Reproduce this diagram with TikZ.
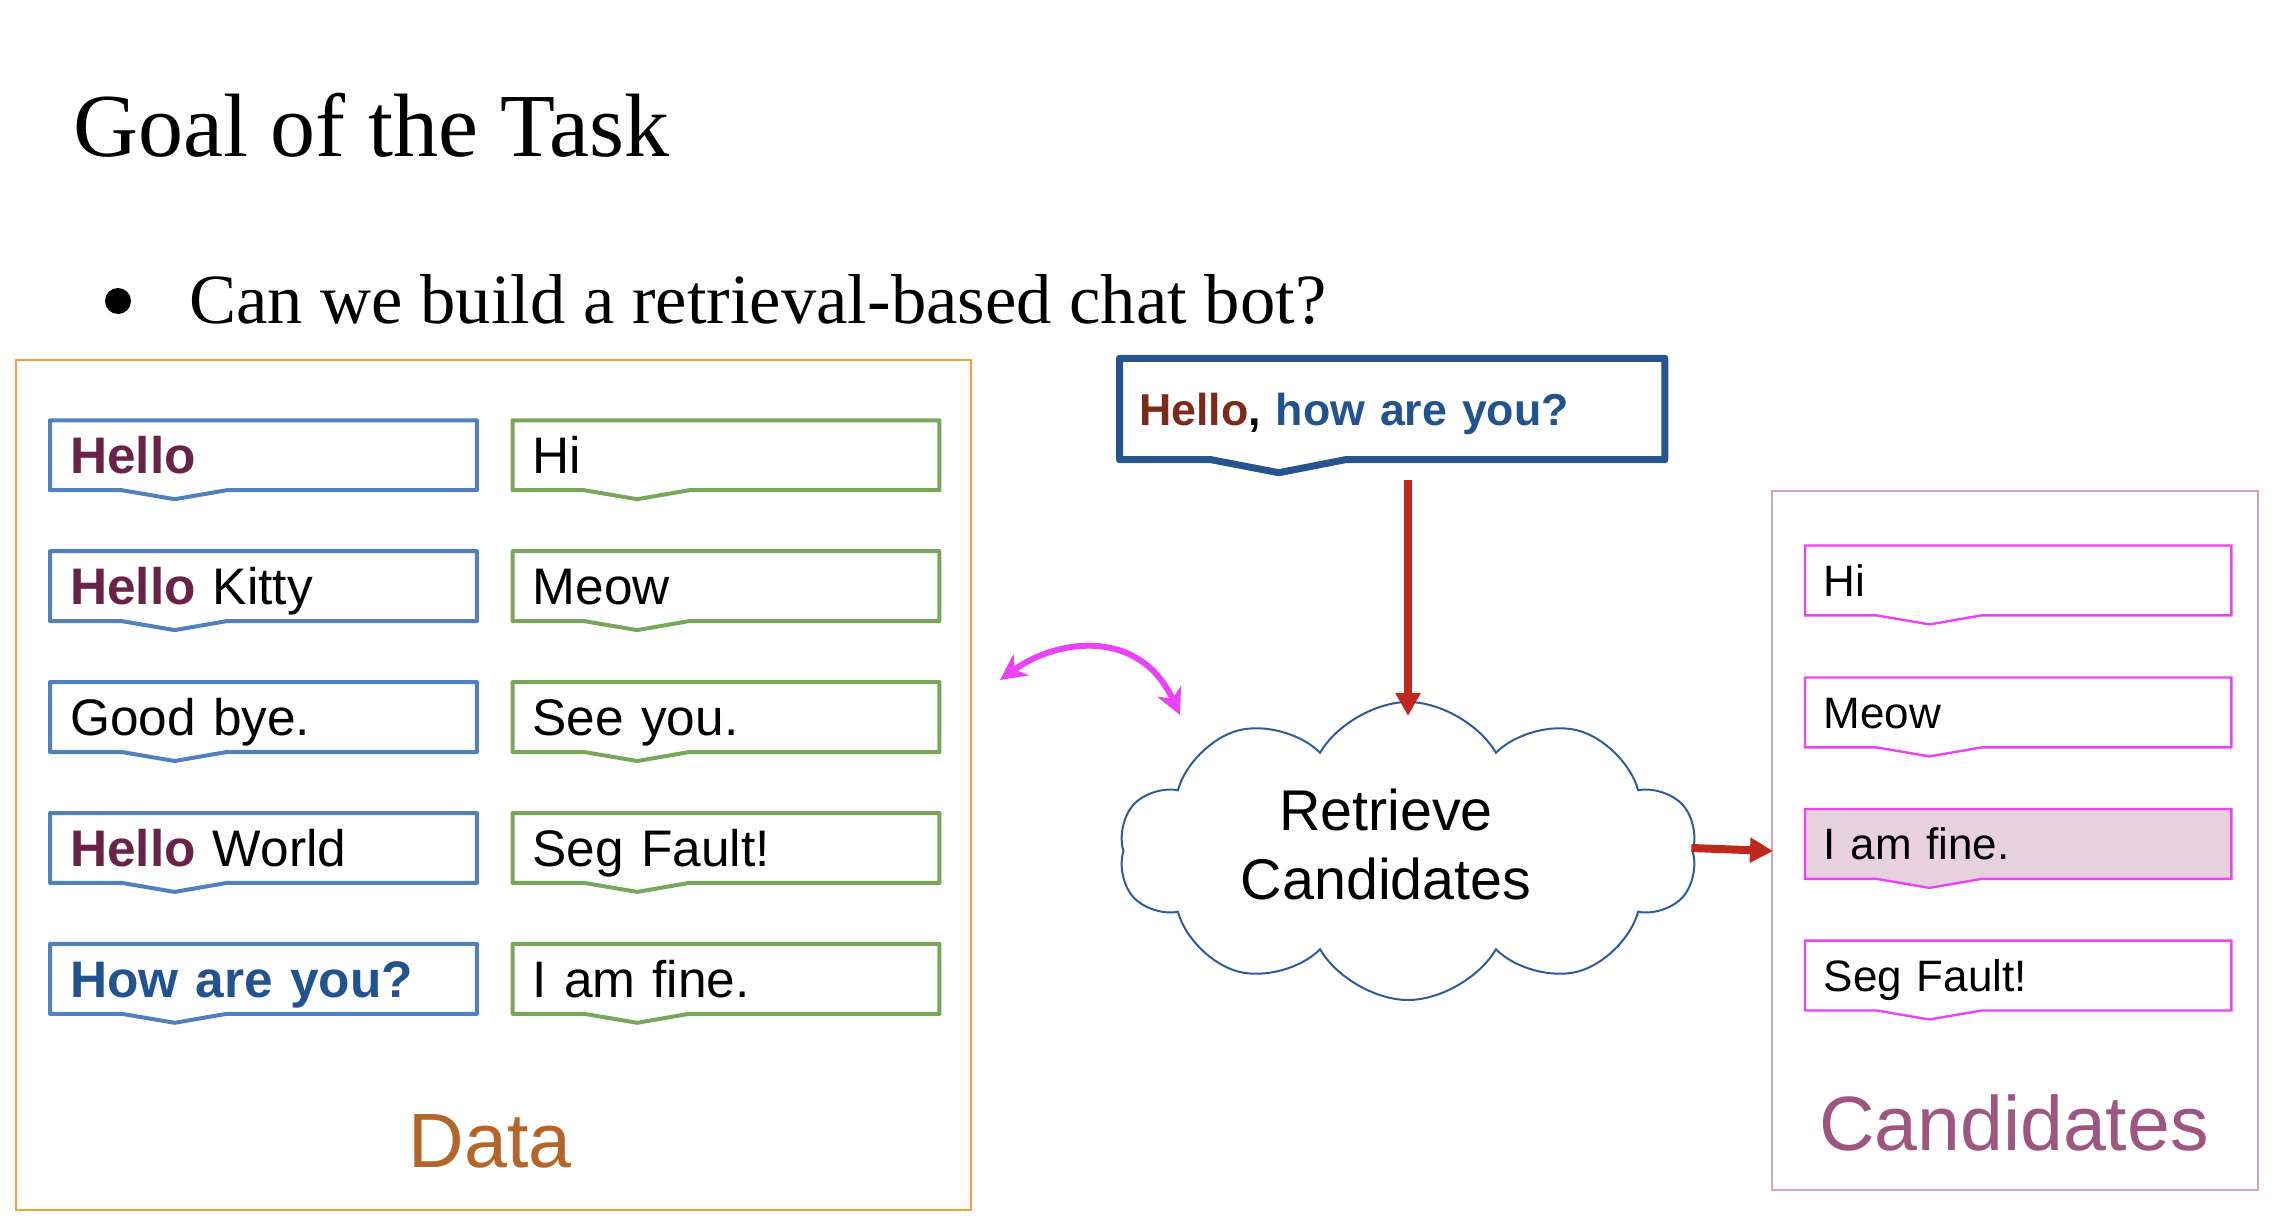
\documentclass[tikz,border=0pt]{standalone}
\usepackage{fontspec}
\setmainfont{Liberation Serif}
\newfontfamily\sansarial{Liberation Sans}
\usetikzlibrary{calc,shapes.symbols,arrows.meta,backgrounds}

\definecolor{boxblue}{HTML}{4F81BD}
\definecolor{boxgreen}{HTML}{78A75B}
\definecolor{dataorange}{HTML}{F2A03D}
\definecolor{datatext}{HTML}{B4652A}
\definecolor{hellomaroon}{HTML}{6A2348}
\definecolor{howblue}{HTML}{23538F}
\definecolor{queryblue}{HTML}{25558F}
\definecolor{queryhello}{HTML}{7A2B1A}
\definecolor{arrowred}{HTML}{C0281E}
\definecolor{swapmagenta}{HTML}{EA42F5}
\definecolor{candframe}{HTML}{D3A6C6}
\definecolor{candbox}{HTML}{EB42F4}
\definecolor{candfill}{HTML}{E7D1DD}
\definecolor{candtext}{HTML}{9C5680}
\definecolor{cloudblue}{HTML}{2C5C9C}

% outline of a speech-bubble box with a small notch on its lower edge
\newcommand\speechoutline[3]{%
  \draw[#1] (#2.south west)
    -- ($(#2.south west)!0.168!(#2.south east)$)
    -- ($(#2.south west)!0.292!(#2.south east)+(0,#3)$)
    -- ($(#2.south west)!0.414!(#2.south east)$)
    -- (#2.south east) -- (#2.north east) -- (#2.north west) -- cycle;}

\begin{document}
\begin{tikzpicture}[x=1pt,y=-1pt,
  pairbox/.style={anchor=north west, minimum width=426.5pt, minimum height=69.5pt,
    inner xsep=20pt, inner ysep=0pt, text width=386.5pt, align=left,
    text height=37pt, text depth=0pt, font=\sansarial\fontsize{51.4}{60}\selectfont},
  candslot/.style={anchor=north west, minimum width=426pt, minimum height=69.5pt,
    inner xsep=18.5pt, inner ysep=0pt, text width=389pt, align=left,
    text height=32pt, text depth=0pt, font=\sansarial\fontsize{44}{52}\selectfont},
  blueline/.style={draw=boxblue, line width=4pt, line join=round},
  greenline/.style={draw=boxgreen, line width=4pt, line join=round},
  queryline/.style={draw=queryblue, line width=7pt, line join=round},
  candline/.style={draw=candbox, line width=2.4pt},
  redarrow/.style={draw=arrowred, line width=8pt, -{Triangle[length=23pt,width=24pt]}},
  swaparrow/.style={draw=swapmagenta, line width=6pt,
    {Stealth[length=26pt,width=26pt,inset=8pt]}-{Stealth[length=26pt,width=26pt,inset=8pt]}}
]
\useasboundingbox (0,0) rectangle (2280,1220);

% heading and bullet
\node[anchor=base west, inner sep=0, font=\fontsize{90}{100}\selectfont] (title) at (73,157) {Goal of the Task};
\node[circle, fill=black, minimum size=26pt, inner sep=0] (dot) at (118,301) {};
\node[anchor=base west, inner sep=0, font=\fontsize{70.6}{80}\selectfont] (question) at (189,323)
  {Can we build a retrieval-based chat bot?};

% data frame
\node[draw=dataorange, line width=2pt, anchor=north west, minimum width=955pt,
  minimum height=850pt, inner sep=0] (dataframe) at (15,359) {};
\node[anchor=base, inner sep=0, text=datatext, font=\sansarial\fontsize{77}{90}\selectfont]
  (datalabel) at (490,1167) {Data};

% message / reply pairs
\node[pairbox] (ask1) at (50,420.3) {{\bfseries\color{hellomaroon}Hello}};
\node[pairbox] (ask2) at (50,551.2) {{\bfseries\color{hellomaroon}Hello} Kitty};
\node[pairbox] (ask3) at (50,682.1) {Good bye.};
\node[pairbox] (ask4) at (50,813.0) {{\bfseries\color{hellomaroon}Hello} World};
\node[pairbox] (ask5) at (50,943.9) {{\bfseries\color{howblue}How are you?}};

\node[pairbox] (reply1) at (512.5,420.3) {Hi};
\node[pairbox] (reply2) at (512.5,551.2) {Meow};
\node[pairbox] (reply3) at (512.5,682.1) {See you.};
\node[pairbox] (reply4) at (512.5,813.0) {Seg Fault!};
\node[pairbox] (reply5) at (512.5,943.9) {I am fine.};

% incoming query
\node[anchor=north west, minimum width=545pt, minimum height=101pt, inner xsep=19.5pt,
  inner ysep=0pt, text width=506pt, align=left, text height=32pt, text depth=0pt,
  font=\sansarial\bfseries\fontsize{44.7}{52}\selectfont] (query) at (1119.5,358.3)
  {{\color{queryhello}Hello}, {\color{howblue}how are you?}};

% retrieval step
\node[cloud, draw=cloudblue, line width=2pt, cloud puffs=10, cloud puff arc=120,
  cloud ignores aspect, minimum width=578pt, minimum height=298pt, inner sep=0,
  align=center, text depth=14pt, font=\sansarial\fontsize{57.4}{69}\selectfont] (cloud) at (1408,851)
  {\hspace*{-44pt}Retrieve\\\hspace*{-44pt}Candidates};

% candidate list
\node[draw=candframe, line width=2pt, anchor=north west, minimum width=486pt,
  minimum height=699pt, inner sep=0] (cands) at (1771,490.4) {};
\node[anchor=base, inner sep=0, text=candtext, font=\sansarial\fontsize{77}{90}\selectfont]
  (candlabel) at (2014,1150) {Candidates};

\node[candslot] (cand1) at (1805,545.5) {Hi};
\node[candslot] (cand2) at (1805,677.5) {Meow};
\node[candslot] (cand3) at (1805,809.0) {I am fine.};
\node[candslot] (cand4) at (1805,940.6) {Seg Fault!};

% bubble outlines, kept underneath the texts
\begin{scope}[on background layer]
  \foreach \k in {1,...,5} {
    \speechoutline{blueline}{ask\k}{9}
    \speechoutline{greenline}{reply\k}{9}
  }
  \speechoutline{queryline}{query}{13}
  \speechoutline{candline}{cand1}{9}
  \speechoutline{candline}{cand2}{9}
  \speechoutline{candline,fill=candfill}{cand3}{9}
  \speechoutline{candline}{cand4}{9}
\end{scope}

% connectors
\coordinate (qdrop) at (1408,480);
\coordinate (cloudin) at (1408,716);
\draw[redarrow] (qdrop) -- (cloudin);
\draw[redarrow] ($(cloud.east)+(-2,-3)$) -- ($(cands.west |- cloud.east)+(2,0)$);

\coordinate (swapL) at (1000,680);
\coordinate (swapR) at (1180,715);
\draw[swaparrow] (swapL) .. controls (1058,638) and (1140,628) .. (swapR);
\end{tikzpicture}
\end{document}
